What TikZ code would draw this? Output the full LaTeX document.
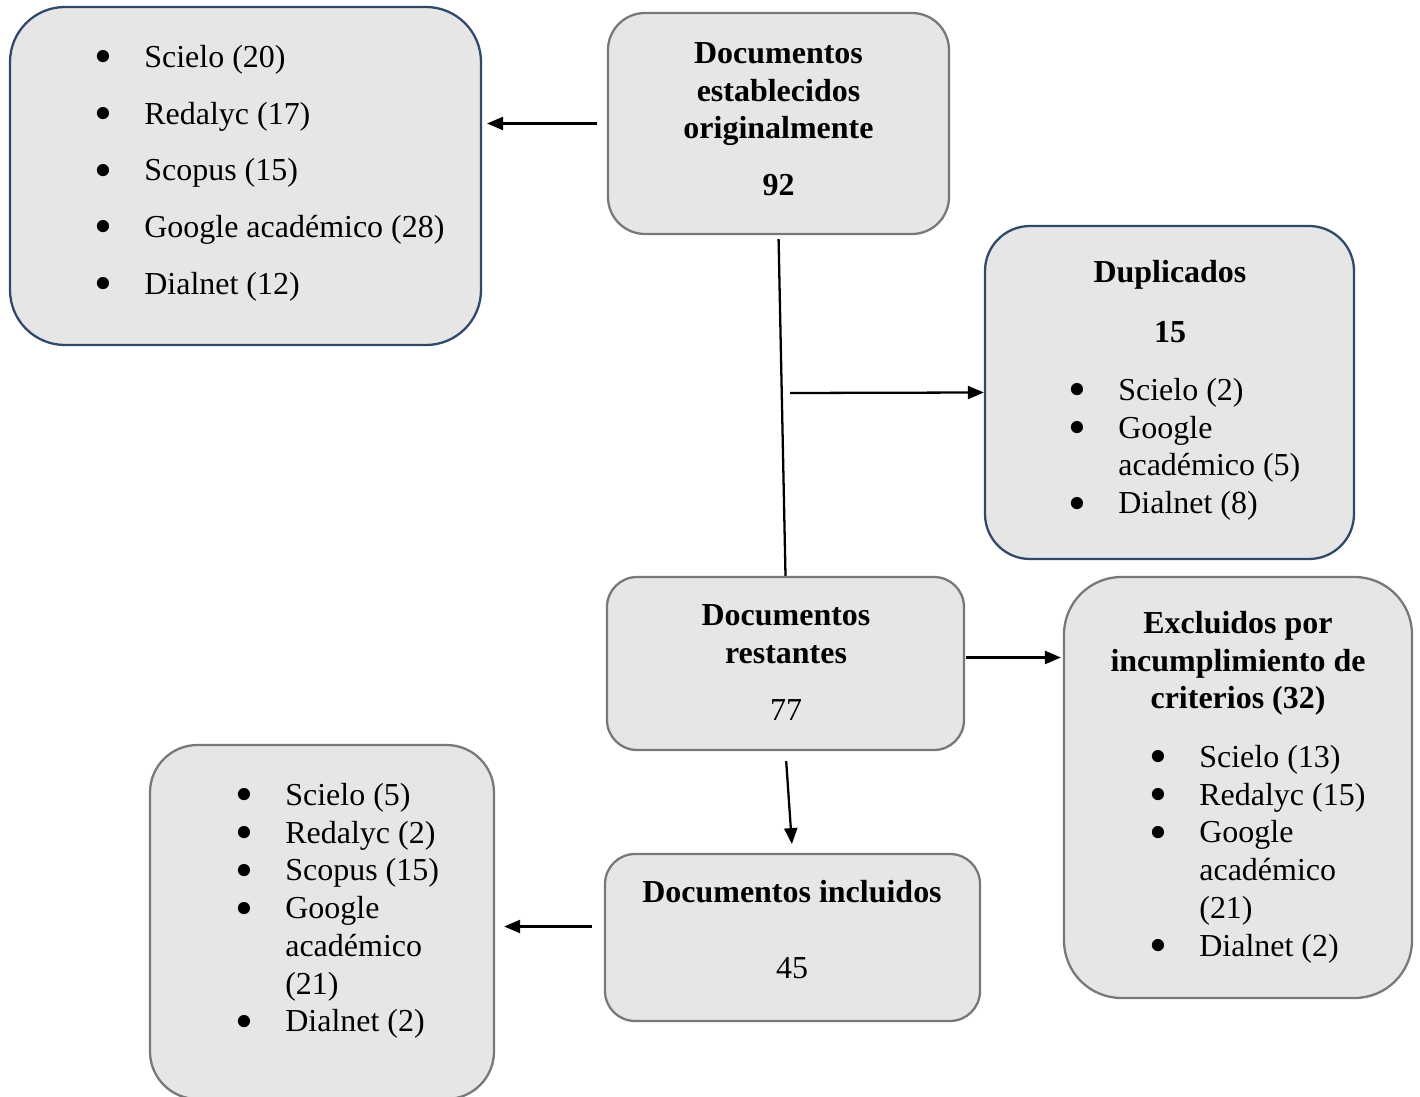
\documentclass[tikz,border=0pt]{standalone}
\usepackage{fontspec}
\setmainfont{Liberation Serif}
\usepackage{graphicx}
\usepackage{xcolor}
\definecolor{cFill}{HTML}{E7E6E6}
\definecolor{cNavy}{HTML}{2F4A68}
\definecolor{cGray}{HTML}{787878}
\usepackage{tikz}
\usetikzlibrary{positioning,arrows.meta,fit,calc}
\newcommand\blt{\makebox[0.82cm][l]{\makebox[0pt]{\smash{\raisebox{-0.2em}{\scalebox{1.6}{\textbullet}}}}}}
\newcommand\cnt{\makebox[0.82cm]{}}
\newcommand\fst{\rule{0pt}{0.9em}}
\newcommand\txtsize{\fontsize{18.2}{21.5}\selectfont}
\tikzset{
  node-box/.style={fill=cFill,line width=1.3pt,inner sep=0pt},
  node-navy/.style={node-box,draw=cNavy},
  node-gray/.style={node-box,draw=cGray},
  text-head/.style={anchor=north,align=center,inner sep=0pt,font=\txtsize\bfseries},
  text-list/.style={anchor=north west,align=left,inner sep=0pt,font=\txtsize},
  arrow/.style={-{Triangle[length=0.32cm,width=0.26cm]},line width=1.3pt},
}

\begin{document}
\begin{tikzpicture}[x=0.02cm,y=-0.02cm]
  \useasboundingbox (0,0) rectangle (1420,1097);
  % cajas
  \node[node-navy,rounded corners=1.1cm,fit={(10,7)(481,345)}] (fuentes) {};
  \node[node-gray,rounded corners=0.74cm,fit={(608,13)(949,234)}] (orig) {};
  \node[node-navy,rounded corners=0.9cm,fit={(985,226)(1354,559)}] (dup) {};
  \node[node-gray,rounded corners=0.6cm,fit={(607,577)(964,750)}] (rest) {};
  \node[node-gray,rounded corners=1.15cm,fit={(1064,577)(1412,998)}] (excl) {};
  \node[node-gray,rounded corners=0.6cm,fit={(605,854)(980,1021)}] (incl) {};
  \node[node-gray,rounded corners=0.95cm,fit={(150,745)(494,1099)}] (lista) {};

  % textos
  \node[text-list,font=\fontsize{18.2}{32.3}\selectfont] (fuentes-txt) at (103,38.2)
    {\fst\blt Scielo (20)\\ \blt Redalyc (17)\\ \blt Scopus (15)\\
     \blt Google académico (28)\\ \blt Dialnet (12)};
  \node[text-head] (orig-txt) at (778.5,34.2)
    {\fst Documentos\\ establecidos\\ originalmente\\[0.38cm] 92};
  \node[text-head] (dup-txt) at (1170,253.2) {\fst Duplicados\\[0.44cm] 15};
  \node[text-list] (dup-list) at (1077,371.2)
    {\fst\blt Scielo (2)\\ \blt Google\\ \cnt académico (5)\\ \blt Dialnet (8)};
  \node[text-head] (rest-txt) at (786,596.2)
    {\fst Documentos\\ restantes\\[0.40cm] \textmd{77}};
  \node[text-head] (excl-txt) at (1238,604.2)
    {\fst Excluidos por\\ incumplimiento de\\ criterios (32)};
  \node[text-list] (excl-list) at (1158,738.2)
    {\fst\blt Scielo (13)\\ \blt Redalyc (15)\\ \blt Google\\ \cnt académico\\
     \cnt (21)\\ \blt Dialnet (2)};
  \node[text-head] (incl-txt) at (792,873.2)
    {\fst Documentos incluidos\\[0.76cm] \textmd{45}};
  \node[text-list] (lista-txt) at (244,776.2)
    {\fst\blt Scielo (5)\\ \blt Redalyc (2)\\ \blt Scopus (15)\\ \blt Google\\
     \cnt académico\\ \cnt (21)\\ \blt Dialnet (2)};

  % conectores
  \draw[arrow,shorten <=5.7pt,shorten >=2.8pt] (orig.west) -- (orig.west -| fuentes.east);
  \draw[line width=1.3pt,shorten <=2.3pt] (orig.south) -- (rest.north);
  \coordinate (bifurca) at (790,393);
  \draw[arrow] (bifurca) -- (dup.west);
  \draw[arrow,shorten <=0.6pt,shorten >=1.1pt] ($(rest.east)+(0,-6)$) -- ($(rest.east -| excl.west)+(0,-6)$);
  \draw[arrow,shorten <=5.7pt,shorten >=5pt] (rest.south) -- (incl.north);
  \draw[arrow,shorten <=6.8pt,shorten >=5.1pt] ($(incl.west)+(0,-11)$) -- ($(incl.west -| lista.east)+(0,-11)$);
\end{tikzpicture}
\end{document}
